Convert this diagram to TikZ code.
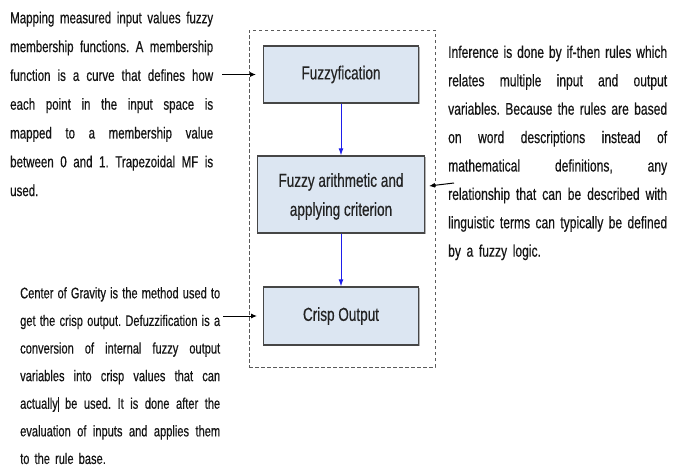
\documentclass[tikz,border=0pt]{standalone}
\usepackage{fontspec}
\setmainfont{Liberation Sans}[FakeStretch=0.72, FakeBold=0.4]
\usetikzlibrary{arrows.meta,shadows}
\definecolor{boxfill}{RGB}{220,230,242}
\definecolor{boxdraw}{RGB}{70,70,70}
\definecolor{boxtext}{RGB}{35,35,35}
\definecolor{bodytext}{RGB}{20,20,20}
\definecolor{flowblue}{RGB}{30,30,235}
\definecolor{dashgray}{RGB}{90,90,90}
\frenchspacing
\newcommand\jl[2]{\leavevmode\hbox to #1{\spaceskip=0.25em plus 1fil\relax #2}}
\begin{document}
\begin{tikzpicture}[x=1pt,y=-1pt,
  stagebox/.style={draw=boxdraw, line width=1.4pt, fill=boxfill, inner sep=0pt,
    drop shadow={shadow xshift=1.2pt, shadow yshift=-1.2pt, fill=black!50, opacity=0.6}},
  stagetext/.style={text=boxtext, font=\fontsize{18.8}{29}\selectfont, align=center, inner sep=0pt},
  note/.style={text=bodytext, align=left, inner sep=0pt, anchor=north west},
  flow/.style={draw=flowblue, line width=0.9pt, -{Latex[length=7pt,width=5pt]}},
  pointer/.style={draw=black, line width=1pt, -{Latex[length=6pt,width=5pt]}},
  framebox/.style={draw=dashgray, dash pattern=on 3.5pt off 2.5pt, line width=0.8pt, inner sep=0pt}]

\fill[white] (0,0) rectangle (678,471);
\useasboundingbox (0,0) rectangle (678,471);

% container
\node[framebox, minimum width=186pt, minimum height=337pt] (frame) at (342,198.5) {};

% stages
\node[stagebox, stagetext, minimum width=155pt, minimum height=57pt] (fuzz) at (341,74.5) {Fuzzyfication};
\node[stagebox, minimum width=167pt, minimum height=77pt] (arith) at (341,194.5) {};
\node[stagetext] (arithlabel) at (341,196.5) {Fuzzy arithmetic and\\applying criterion};
\node[stagebox, stagetext, minimum width=155pt, minimum height=58pt] (crisp) at (341,316) {Crisp Output};

\draw[flow] (fuzz.south) -- (arith.north);
\draw[flow] (arith.south) -- (crisp.north);

% notes
\node[note, font=\fontsize{16}{28.8}\selectfont, text width=203pt] (mapping) at (10,11.5) {%
\jl{203pt}{Mapping measured input values fuzzy}\\
\jl{203pt}{membership functions. A membership}\\
\jl{203pt}{function is a curve that defines how}\\
\jl{203pt}{each point in the input space is}\\
\jl{203pt}{mapped to a membership value}\\
\jl{203pt}{between 0 and 1. Trapezoidal MF is}\\
used.};

\node[note, font=\fontsize{16.8}{28.4}\selectfont, text width=219pt] (inference) at (448,45.5) {%
\jl{219pt}{Inference is done by if-then rules which}\\
\jl{219pt}{relates multiple input and output}\\
\jl{219pt}{variables. Because the rules are based}\\
\jl{219pt}{on word descriptions instead of}\\
\jl{219pt}{mathematical definitions, any}\\
\jl{219pt}{relationship that can be described with}\\
\jl{219pt}{linguistic terms can typically be defined}\\
by a fuzzy logic.};

\node[note, font=\fontsize{15.4}{27.6}\selectfont, text width=200pt] (gravity) at (20,287) {%
\jl{200pt}{Center of Gravity is the method used to}\\
\jl{200pt}{get the crisp output. Defuzzification is a}\\
\jl{200pt}{conversion of internal fuzzy output}\\
\jl{200pt}{variables into crisp values that can}\\
\jl{200pt}{actually\rule[-3pt]{0.7pt}{15pt} be used. It is done after the}\\
\jl{200pt}{evaluation of inputs and applies them}\\
to the rule base.};

% pointers
\coordinate (p1t) at (222,74.5);
\coordinate (p1h) at (256,74.5);
\coordinate (p2t) at (454,183);
\coordinate (p2h) at (429,186);
\coordinate (p3t) at (223,316);
\coordinate (p3h) at (257,316);
\draw[pointer] (p1t) -- (p1h);
\draw[pointer] (p2t) -- (p2h);
\draw[pointer] (p3t) -- (p3h);
\end{tikzpicture}
\end{document}
